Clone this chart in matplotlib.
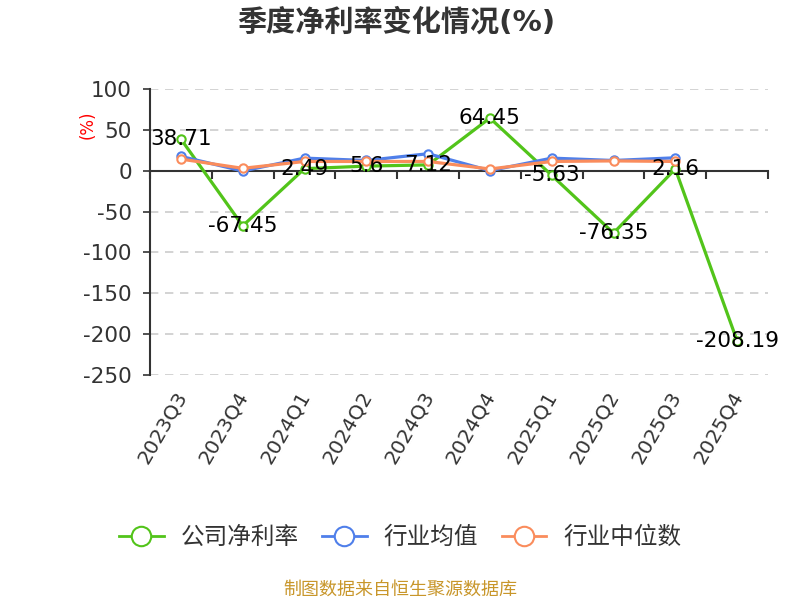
import matplotlib
matplotlib.use('Agg')
import matplotlib.pyplot as plt
import matplotlib.transforms as mtransforms
from matplotlib.lines import Line2D
import numpy as np

plt.rcParams['font.family'] = ['DejaVu Sans', 'Noto Sans CJK SC']
plt.rcParams['axes.unicode_minus'] = False

# data
quarters = ['2023Q3', '2023Q4', '2024Q1', '2024Q2', '2024Q3',
            '2024Q4', '2025Q1', '2025Q2', '2025Q3', '2025Q4']
company = [38.71, -67.45, 2.49, 5.6, 7.12, 64.45, -5.63, -76.35, 2.16, -208.19]
industry_avg = [17.5, -0.4, 15.4, 12.5, 20.8, 0.0, 15.4, 12.5, 15.8]
industry_median = [14.2, 2.9, 11.3, 11.3, 11.3, 2.1, 11.3, 12.0, 11.3]
series_names = ['公司净利率', '行业均值', '行业中位数']
colors = ['#52C41A', '#4F7FEA', '#FA8C5C']

fig = plt.figure(figsize=(8, 6), dpi=100)
ax = fig.add_axes([0.1875, 0.375, 0.7725, 0.4767])

x = np.arange(len(quarters))
ax.plot(x, company, color=colors[0], lw=2.3, marker='o', ms=6,
        mfc='white', mec=colors[0], mew=1.5, zorder=3)
ax.plot(x[:len(industry_avg)], industry_avg, color=colors[1], lw=2.3, marker='o', ms=6,
        mfc='white', mec=colors[1], mew=1.5, zorder=4)
ax.plot(x[:len(industry_median)], industry_median, color=colors[2], lw=2.3, marker='o', ms=6,
        mfc='white', mec=colors[2], mew=1.5, zorder=5)

# value labels on company line
for xi, v in zip(x, company):
    ax.text(xi, v, f'{v:g}', ha='center', va='center', fontsize=15.5, color='#000000', zorder=6)

ax.set_xlim(-0.5, len(quarters) - 0.5)
ax.set_ylim(-250, 100)
ax.set_yticks(np.arange(-250, 101, 50))
ax.tick_params(axis='y', length=5, width=1.2, pad=8, colors='#333333',
               labelsize=15.5, labelcolor='#333333')
ax.yaxis.grid(True, linestyle=(0, (5, 4)), color='#CCCCCC', lw=1.2)
ax.set_axisbelow(True)

ax.spines['top'].set_visible(False)
ax.spines['right'].set_visible(False)
ax.spines['left'].set_color('#333333')
ax.spines['left'].set_linewidth(1.5)
ax.spines['bottom'].set_position(('data', 0))
ax.spines['bottom'].set_color('#333333')
ax.spines['bottom'].set_linewidth(1.5)
ax.spines['bottom'].set_zorder(2)
ax.set_xticks(np.arange(-0.5, len(quarters), 1))
ax.set_xticklabels([])
ax.tick_params(axis='x', length=6, width=1.5, colors='#333333', direction='out')

# category labels at the bottom
trans = mtransforms.blended_transform_factory(ax.transData, fig.transFigure)
for xi, q in zip(x, quarters):
    ax.text(xi + 0.02, 0.345, q, transform=trans, rotation=60, rotation_mode='anchor',
            ha='right', va='center', fontsize=14.5, color='#333333')

# unit label
fig.text(0.11, 0.792, '(%)', rotation=90, color='red', fontsize=12, ha='center', va='center')

# title
fig.text(0.495, 0.962, '季度净利率变化情况(%)', ha='center', va='center',
         fontsize=21, fontweight='bold', color='#333333')

# legend
handles = [Line2D([0], [0], color=c, lw=2, marker='o', ms=14, mfc='white', mec=c, mew=1.5)
           for c in colors]
leg = fig.legend(handles, series_names, loc='center', bbox_to_anchor=(0.5, 0.105), ncol=3,
                 frameon=False, fontsize=17, handlelength=1.9, columnspacing=1.0, handletextpad=0.7)
for t in leg.get_texts():
    t.set_color('#333333')

# source
fig.text(0.5, 0.017, '制图数据来自恒生聚源数据库', ha='center', va='center',
         fontsize=13, color='#C8962A')

fig.savefig('out.png', dpi=100, facecolor='white')
